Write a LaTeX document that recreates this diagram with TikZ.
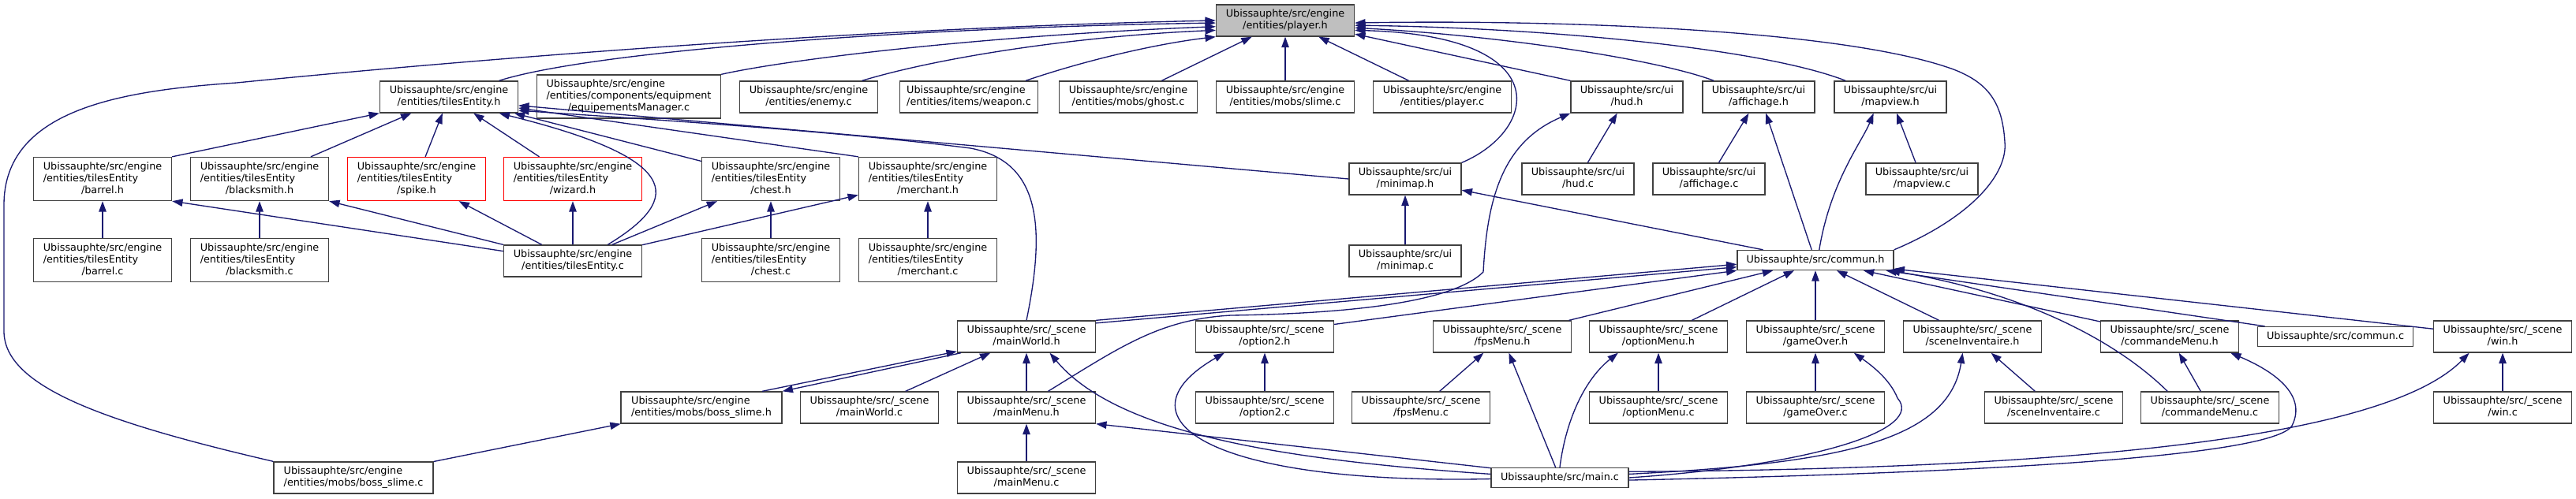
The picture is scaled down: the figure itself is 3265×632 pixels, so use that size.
\documentclass[tikz,border=0pt]{standalone}
\usepackage{fontspec}
\setmainfont{DejaVu Sans}
\usepackage{xcolor}
\usepackage{tikz}
\usetikzlibrary{arrows.meta}

\definecolor{edgeblue}{HTML}{191970}
\definecolor{boxgray}{HTML}{404040}
\definecolor{rootfill}{HTML}{BFBFBF}
\newcommand{\dotfont}{\fontsize{9.6}{11.25}\selectfont}
\newcommand{\flab}[2]{\begin{tabular}{@{}l@{}}#1\\\multicolumn{1}{@{}c@{}}{#2}\end{tabular}}

\begin{document}
\begin{tikzpicture}[x=0.75pt,y=-0.75pt,
  file/.style={draw=boxgray,line width=1pt,fill=white,inner sep=0pt,
    minimum width=131.25pt,minimum height=30pt,font=\dotfont},
  tall/.style={minimum height=41.25pt},
  flat/.style={minimum height=18.75pt},
  ui/.style={minimum width=106.5pt},
  cut/.style={draw=red},
  root/.style={fill=rootfill},
  inc/.style={draw=edgeblue,line width=1pt,-{Triangle[length=10pt,width=7pt]}}]
  \useasboundingbox (0,0) rectangle (3265,632);
  %
  \node[file,root] (playerh) at (1629,26) {\flab{Ubissauphte/src/engine}{/entities/player.h}};
  %
  \node[file] (tileh) at (569,123) {\flab{Ubissauphte/src/engine}{/entities/tilesEntity.h}};
  \node[file,tall,minimum width=174.75pt] (equipc) at (797,122.5) {\flab{Ubissauphte/src/engine\\/entities/components/equipment}{/equipementsManager.c}};
  \node[file] (enemyc) at (1025,123) {\flab{Ubissauphte/src/engine}{/entities/enemy.c}};
  \node[file] (weaponc) at (1228,123) {\flab{Ubissauphte/src/engine}{/entities/items/weapon.c}};
  \node[file] (ghostc) at (1430,123) {\flab{Ubissauphte/src/engine}{/entities/mobs/ghost.c}};
  \node[file] (slimec) at (1629,123) {\flab{Ubissauphte/src/engine}{/entities/mobs/slime.c}};
  \node[file] (playerc) at (1828,123) {\flab{Ubissauphte/src/engine}{/entities/player.c}};
  \node[file,ui] (hudh) at (2062,123) {\flab{Ubissauphte/src/ui}{/hud.h}};
  \node[file,ui] (affh) at (2229,123) {\flab{Ubissauphte/src/ui}{/affichage.h}};
  \node[file,ui] (maph) at (2396,123) {\flab{Ubissauphte/src/ui}{/mapview.h}};
  %
  \node[file,tall] (barrelh) at (130,227) {\flab{Ubissauphte/src/engine\\/entities/tilesEntity}{/barrel.h}};
  \node[file,tall] (smithh) at (329,227) {\flab{Ubissauphte/src/engine\\/entities/tilesEntity}{/blacksmith.h}};
  \node[file,tall,cut] (spikeh) at (528,227) {\flab{Ubissauphte/src/engine\\/entities/tilesEntity}{/spike.h}};
  \node[file,tall,cut] (wizardh) at (726,227) {\flab{Ubissauphte/src/engine\\/entities/tilesEntity}{/wizard.h}};
  \node[file,tall] (chesth) at (977,227) {\flab{Ubissauphte/src/engine\\/entities/tilesEntity}{/chest.h}};
  \node[file,tall] (merchh) at (1176,227) {\flab{Ubissauphte/src/engine\\/entities/tilesEntity}{/merchant.h}};
  \node[file,ui] (minih) at (1781,227) {\flab{Ubissauphte/src/ui}{/minimap.h}};
  \node[file,ui] (hudc) at (2000,227) {\flab{Ubissauphte/src/ui}{/hud.c}};
  \node[file,ui] (affc) at (2166,227) {\flab{Ubissauphte/src/ui}{/affichage.c}};
  \node[file,ui] (mapc) at (2436,227) {\flab{Ubissauphte/src/ui}{/mapview.c}};
  %
  \node[file,tall] (barrelc) at (130,330) {\flab{Ubissauphte/src/engine\\/entities/tilesEntity}{/barrel.c}};
  \node[file,tall] (smithc) at (329,330) {\flab{Ubissauphte/src/engine\\/entities/tilesEntity}{/blacksmith.c}};
  \node[file] (tilec) at (726,331) {\flab{Ubissauphte/src/engine}{/entities/tilesEntity.c}};
  \node[file,tall] (chestc) at (977,330) {\flab{Ubissauphte/src/engine\\/entities/tilesEntity}{/chest.c}};
  \node[file,tall] (merchc) at (1176,330) {\flab{Ubissauphte/src/engine\\/entities/tilesEntity}{/merchant.c}};
  \node[file,ui] (minic) at (1781,331) {\flab{Ubissauphte/src/ui}{/minimap.c}};
  \node[file,flat,minimum width=148.5pt] (communh) at (2301,330) {Ubissauphte/src/commun.h};
  %
  \node[file] (worldh) at (1301,427) {\flab{Ubissauphte/src/\_scene}{/mainWorld.h}};
  \node[file] (opt2h) at (1603,427) {\flab{Ubissauphte/src/\_scene}{/option2.h}};
  \node[file] (fpsh) at (1904,427) {\flab{Ubissauphte/src/\_scene}{/fpsMenu.h}};
  \node[file] (optmh) at (2102,427) {\flab{Ubissauphte/src/\_scene}{/optionMenu.h}};
  \node[file] (overh) at (2301,427) {\flab{Ubissauphte/src/\_scene}{/gameOver.h}};
  \node[file] (invh) at (2500,427) {\flab{Ubissauphte/src/\_scene}{/sceneInventaire.h}};
  \node[file] (cmdh) at (2750,427) {\flab{Ubissauphte/src/\_scene}{/commandeMenu.h}};
  \node[file,flat,minimum width=147.75pt] (communc) at (2960,427) {Ubissauphte/src/commun.c};
  \node[file] (winh) at (3172,427) {\flab{Ubissauphte/src/\_scene}{/win.h}};
  %
  \node[file,minimum width=153pt] (bossh) at (889,517) {\flab{Ubissauphte/src/engine}{/entities/mobs/boss\_slime.h}};
  \node[file] (worldc) at (1102,517) {\flab{Ubissauphte/src/\_scene}{/mainWorld.c}};
  \node[file] (menuh) at (1301,517) {\flab{Ubissauphte/src/\_scene}{/mainMenu.h}};
  \node[file] (opt2c) at (1603,517) {\flab{Ubissauphte/src/\_scene}{/option2.c}};
  \node[file] (fpsc) at (1801,517) {\flab{Ubissauphte/src/\_scene}{/fpsMenu.c}};
  \node[file] (optmc) at (2102,517) {\flab{Ubissauphte/src/\_scene}{/optionMenu.c}};
  \node[file] (overc) at (2301,517) {\flab{Ubissauphte/src/\_scene}{/gameOver.c}};
  \node[file] (invc) at (2603,517) {\flab{Ubissauphte/src/\_scene}{/sceneInventaire.c}};
  \node[file] (cmdc) at (2801,517) {\flab{Ubissauphte/src/\_scene}{/commandeMenu.c}};
  \node[file] (winc) at (3172,517) {\flab{Ubissauphte/src/\_scene}{/win.c}};
  %
  \node[file,minimum width=151.5pt] (bossc) at (448,606) {\flab{Ubissauphte/src/engine}{/entities/mobs/boss\_slime.c}};
  \node[file] (menuc) at (1301,606) {\flab{Ubissauphte/src/\_scene}{/mainMenu.c}};
  \node[file,flat,minimum width=130.5pt] (mainc) at (1977,606) {Ubissauphte/src/main.c};
  %
  % into player.h
  \draw[inc] (bossc.north west) .. controls (130,535) and (5,490) .. (5,420)
    -- (5,260) .. controls (5,140) and (150,115) .. (300,105)
    .. controls (600,75) and (1100,35) .. (playerh.west);
  \draw[inc] (tileh.18) .. controls (750,65) and (1150,35) .. (playerh.182);
  \draw[inc] (equipc.north east) .. controls (1000,75) and (1250,45) .. (playerh.185);
  \draw[inc] (enemyc.17) .. controls (1200,70) and (1380,45) .. (playerh.188);
  \draw[inc] (weaponc.16) .. controls (1380,75) and (1470,55) .. (playerh.south west);
  \draw[inc] (ghostc) -- (playerh);
  \draw[inc] (slimec) -- (playerh);
  \draw[inc] (playerc) -- (playerh);
  \draw[inc] (hudh.north west) -- (playerh.-11);
  \draw[inc] (minih.north east) .. controls (1950,165) and (1975,45) .. (playerh.-8);
  \draw[inc] (affh.160) .. controls (2100,75) and (1900,45) .. (playerh.-6);
  \draw[inc] (maph.160) .. controls (2230,60) and (1950,35) .. (playerh.-4);
  \draw[inc] (communh.north east) .. controls (2500,275) and (2545,220) .. (2541,180)
    .. controls (2538,130) and (2520,105) .. (2476,88)
    .. controls (2330,35) and (1950,25) .. (playerh.-2);
  %
  % into tilesEntity.h
  \draw[inc] (barrelh.north east) -- (tileh.south west);
  \draw[inc] (smithh) -- (tileh);
  \draw[inc] (spikeh) -- (tileh);
  \draw[inc] (wizardh) -- (tileh);
  \draw[inc] (chesth) -- (tileh.-14);
  \draw[inc] (merchh.north west) -- (tileh.-9);
  \draw[inc] (tilec.25) .. controls (870,250) and (860,200) .. (tileh.-18);
  \draw[inc] (worldh.north) .. controls (1325,290) and (1320,205) .. (1230,188)
    .. controls (1050,165) and (800,150) .. (tileh.-11);
  \draw[inc] (minih.west) -- (tileh.-7);
  %
  \draw[inc] (tilec.172) -- (barrelh.south east);
  \draw[inc] (tilec.north west) -- (smithh.south east);
  \draw[inc] (tilec) -- (spikeh);
  \draw[inc] (tilec) -- (wizardh);
  \draw[inc] (tilec) -- (chesth);
  \draw[inc] (tilec) -- (merchh);
  \draw[inc] (barrelc) -- (barrelh);
  \draw[inc] (smithc) -- (smithh);
  \draw[inc] (chestc) -- (chesth);
  \draw[inc] (merchc) -- (merchh);
  %
  % ui
  \draw[inc] (minic) -- (minih);
  \draw[inc] (hudc) -- (hudh);
  \draw[inc] (affc) -- (affh);
  \draw[inc] (mapc) -- (maph);
  \draw[inc] (communh) -- (minih);
  \draw[inc] (communh.110) -- (affh.-66);
  \draw[inc] (communh.70) .. controls (2320,230) and (2360,180) .. (maph.-136);
  \draw[inc] (menuh.37) .. controls (1420,440) and (1470,405) .. (1560,400)
    .. controls (1700,398) and (1840,385) .. (1880,345)
    .. controls (1885,250) and (1905,180) .. (hudh.south west);
  %
  % into commun.h
  \draw[inc] (worldh.north east) -- (communh.183);
  \draw[inc] (worldh.11) -- (communh.185);
  \draw[inc] (opt2h.10) -- (communh.south west);
  \draw[inc] (fpsh) -- (communh);
  \draw[inc] (optmh) -- (communh);
  \draw[inc] (overh) -- (communh);
  \draw[inc] (invh) -- (communh);
  \draw[inc] (cmdh) -- (communh);
  \draw[inc] (communc) -- (communh);
  \draw[inc] (winh) -- (communh);
  \draw[inc] (cmdc.159) .. controls (2680,430) and (2560,370) .. (communh.-8);
  %
  % scenes
  \draw[inc] (bossh.15) -- (worldh.-168);
  \draw[inc] (worldh.-166) -- (bossh.north east);
  \draw[inc] (bossc) -- (bossh);
  \draw[inc] (worldc) -- (worldh);
  \draw[inc] (menuh) -- (worldh);
  \draw[inc] (menuc) -- (menuh);
  \draw[inc] (opt2c) -- (opt2h);
  \draw[inc] (fpsc) -- (fpsh);
  \draw[inc] (optmc) -- (optmh);
  \draw[inc] (overc) -- (overh);
  \draw[inc] (invc) -- (invh);
  \draw[inc] (cmdc) -- (cmdh);
  \draw[inc] (winc) -- (winh);
  %
  % main.c
  \draw[inc] (mainc.172) -- (menuh.south east);
  \draw[inc] (mainc.177) .. controls (1650,585) and (1420,555) .. (worldh.-35);
  \draw[inc] (mainc.181) .. controls (1530,615) and (1410,530) .. (opt2h.-158);
  \draw[inc] (mainc) -- (fpsh);
  \draw[inc] (mainc.north) .. controls (1985,530) and (2010,480) .. (optmh.-158);
  \draw[inc] (mainc.east) .. controls (2300,590) and (2440,545) .. (2405,505)
    .. controls (2395,480) and (2370,462) .. (overh.-23);
  \draw[inc] (mainc.3) .. controls (2330,588) and (2470,560) .. (invh.-121);
  \draw[inc] (mainc.-2) .. controls (2500,600) and (2880,580) .. (2905,540)
    .. controls (2925,500) and (2880,470) .. (cmdh.-15);
  \draw[inc] (mainc.5) .. controls (2600,595) and (3020,560) .. (winh.-154);
\end{tikzpicture}
\end{document}
